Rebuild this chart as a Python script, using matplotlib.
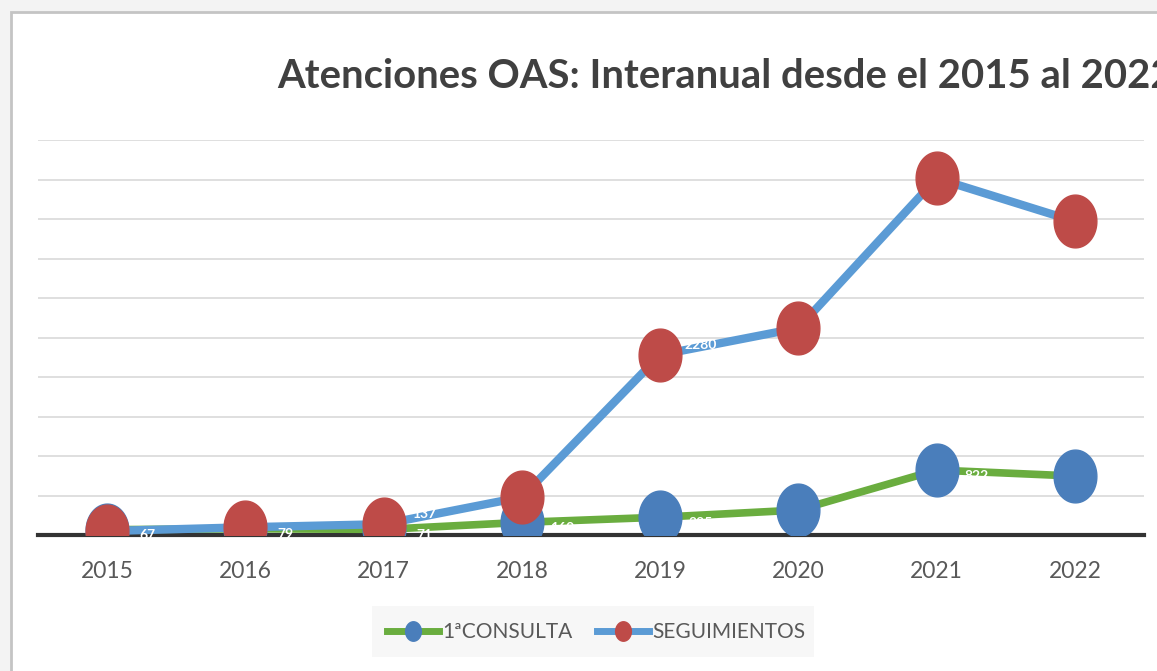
import numpy as np
import matplotlib
matplotlib.use("Agg")
import matplotlib.pyplot as plt
from matplotlib.path import Path
from matplotlib.patches import Rectangle
from matplotlib.lines import Line2D

years = ["2015", "2016", "2017", "2018", "2019", "2020", "2021", "2022"]
primera = [67, 79, 71, 160, 225, 316, 822, 746]
seguimientos = [50, 98, 137, 480, 2280, 2620, 4515, 3970]

W, H = 1157, 671
fig = plt.figure(figsize=(W / 100, H / 100), dpi=100)
fig.patch.set_facecolor("#f3f3f3")
fig.patches.append(Rectangle((11 / W, -0.1), 1.2, (H - 12) / H + 0.1, transform=fig.transFigure,
                             facecolor="white", edgecolor="#c4c4c4", linewidth=2, zorder=-5))

FONT = ["Lato", "DejaVu Sans"]

ax = fig.add_axes([38 / W, 136 / H, 1106 / W, 395 / H])
ax.set_facecolor("none")
ax.set_zorder(2)
x = np.arange(len(years))

theta = np.linspace(0, 2 * np.pi, 80)
ell = Path(np.column_stack([0.81 * np.cos(theta), np.sin(theta)]), closed=True)

ax.plot(x, primera, color="#6aad3f", lw=5.5, solid_capstyle="round", zorder=3)
ax.plot(x, primera, ls="none", marker=ell, ms=38, mfc="#4a7ebb", mec="#4a7ebb", zorder=4)
ax.plot(x, seguimientos, color="#5b9bd5", lw=6, solid_capstyle="round", zorder=5)
ax.plot(x, seguimientos, ls="none", marker=ell, ms=38, mfc="#be4b48", mec="#be4b48", zorder=6)

for xi, v in zip(x, primera):
    ax.annotate(str(v), (xi, v), xytext=(29, -4), textcoords="offset points", ha="center", va="center",
                color="white", fontsize=10, fontweight="bold", family=FONT, zorder=7)
for xi, v in zip(x, seguimientos):
    ax.annotate(str(v), (xi, v), xytext=(29, 7), textcoords="offset points", ha="center", va="center",
                color="white", fontsize=10, fontweight="bold", family=FONT, zorder=7)

ax.set_xlim(-0.5, 7.5)
ax.set_ylim(0, 5000)
ax.set_yticks(np.arange(500, 5001, 500))
ax.yaxis.grid(True, color="#dcdcdc", lw=1.3)
ax.set_axisbelow(True)
ax.tick_params(axis="y", left=False, labelleft=False)
ax.set_xticks(x)
ax.set_xticklabels(years, family=FONT, fontsize=16.5, color="#595959")
ax.tick_params(axis="x", length=0, pad=19)
for s in ["top", "right", "left"]:
    ax.spines[s].set_visible(False)
ax.spines["bottom"].set_color("#333333")
ax.spines["bottom"].set_linewidth(3)
ax.spines["bottom"].set_zorder(2)

title = "Atenciones OAS: Interanual desde el 2015 al 2022"
probe = fig.text(0, 0, title[:-1], family=FONT, fontweight="bold", fontsize=30)
r = fig.canvas.get_renderer()
wpx = probe.get_window_extent(r).width
probe.remove()
tsize = 30 * 872 / wpx
fig.text(277 / W, 1 - 88 / H, title, family=FONT,
         fontweight="bold", fontsize=tsize, color="#404040", ha="left", va="baseline")

fig.patches.append(Rectangle((372 / W, 1 - 657 / H), 442 / W, 51 / H, transform=fig.transFigure,
                             facecolor="#f7f7f7", edgecolor="none", zorder=1))
h1 = Line2D([], [], color="#6aad3f", lw=5, marker=ell, ms=14, mfc="#4a7ebb", mec="#4a7ebb")
h2 = Line2D([], [], color="#5b9bd5", lw=5, marker=ell, ms=14, mfc="#be4b48", mec="#be4b48")
leg = fig.legend([h1, h2], ["1ªCONSULTA", "SEGUIMIENTOS"], loc="center", bbox_to_anchor=(596 / W, 1 - 632 / H),
                 ncol=2, frameon=False, prop={"family": FONT, "size": 15}, handlelength=2.5,
                 handletextpad=0.15, columnspacing=1.2)
for t in leg.get_texts():
    t.set_color("#595959")

fig.savefig("out.png", dpi=100, facecolor=fig.get_facecolor())
